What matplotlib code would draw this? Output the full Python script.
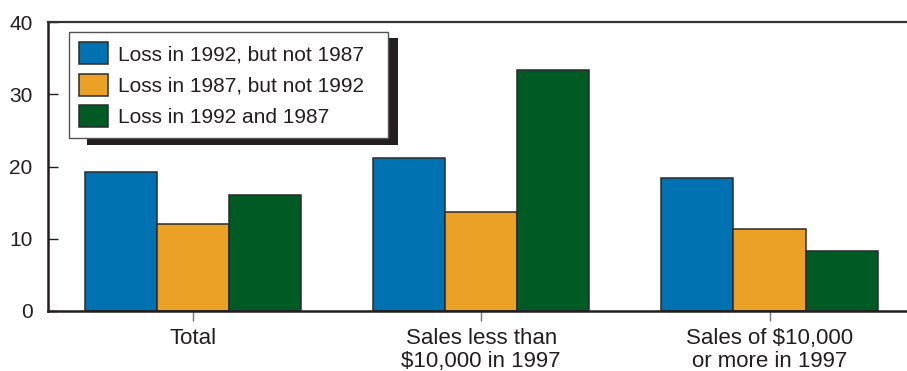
import matplotlib
matplotlib.use("Agg")
import matplotlib.pyplot as plt
import numpy as np
from matplotlib.patches import Rectangle

categories = ["Total", "Sales less than\n$10,000 in 1997", "Sales of $10,000\nor more in 1997"]
series_names = ["Loss in 1992, but not 1987", "Loss in 1987, but not 1992", "Loss in 1992 and 1987"]
loss_1992_not_1987 = [19.3, 21.2, 18.4]
loss_1987_not_1992 = [12.0, 13.7, 11.3]
loss_both = [16.1, 33.4, 8.3]
yticks = [0, 10, 20, 30, 40]

colors = ["#0072B2", "#EAA125", "#005A23"]
dark = "#231f20"

plt.rcParams['font.family'] = ['Liberation Sans', 'DejaVu Sans']

W, H = 907, 371
fig = plt.figure(figsize=(W / 100, H / 100), dpi=100)
ax = fig.add_axes([48 / W, (H - 311) / H, (907 - 48) / W, (311 - 22) / H])

x = np.arange(len(categories))
width = 0.25
for i, (vals, name, c) in enumerate(zip([loss_1992_not_1987, loss_1987_not_1992, loss_both], series_names, colors)):
    ax.bar(x + (i - 1) * width, vals, width, color=c, edgecolor="#2b2b2b", linewidth=1.1, label=name, zorder=2)

ax.set_xlim(-0.503, 2.477)
ax.set_ylim(0, 40)
ax.set_yticks(yticks)
ax.set_xticks(x)
ax.set_xticklabels(categories, fontsize=16, color=dark, linespacing=1.15)
ax.tick_params(axis='y', direction='in', length=7, width=1, color=dark, labelsize=15, labelcolor=dark, pad=11)
ax.tick_params(axis='x', direction='out', length=7, width=1, color="#777777", pad=5)

for s in ['left', 'bottom']:
    ax.spines[s].set_color(dark)
    ax.spines[s].set_linewidth(1.8)
ax.spines['top'].set_color("#333333")
ax.spines['top'].set_linewidth(1.6)
ax.spines['right'].set_visible(False)

# legend shadow
shadow = Rectangle((87 / W, (H - 145) / H), (398 - 87) / W, (145 - 38) / H,
                   transform=fig.transFigure, facecolor=dark, edgecolor='none', zorder=5, clip_on=False)
ax.add_patch(shadow)

leg = ax.legend(loc='upper left', bbox_to_anchor=(69 / W, (H - 32) / H - 0.01, (388 - 69) / W, 0.01),
                bbox_transform=fig.transFigure, mode='expand', borderaxespad=0,
                fontsize=15, frameon=True, fancybox=False, shadow=False, framealpha=1,
                handlelength=1.35, handleheight=1.25, handletextpad=0.5,
                labelspacing=0.45, borderpad=0.5, labelcolor=dark)
leg.get_frame().set_edgecolor("#555555")
leg.get_frame().set_linewidth(1.0)
leg.get_frame().set_facecolor("white")
leg.set_zorder(10)

fig.savefig("out.png", dpi=100)
